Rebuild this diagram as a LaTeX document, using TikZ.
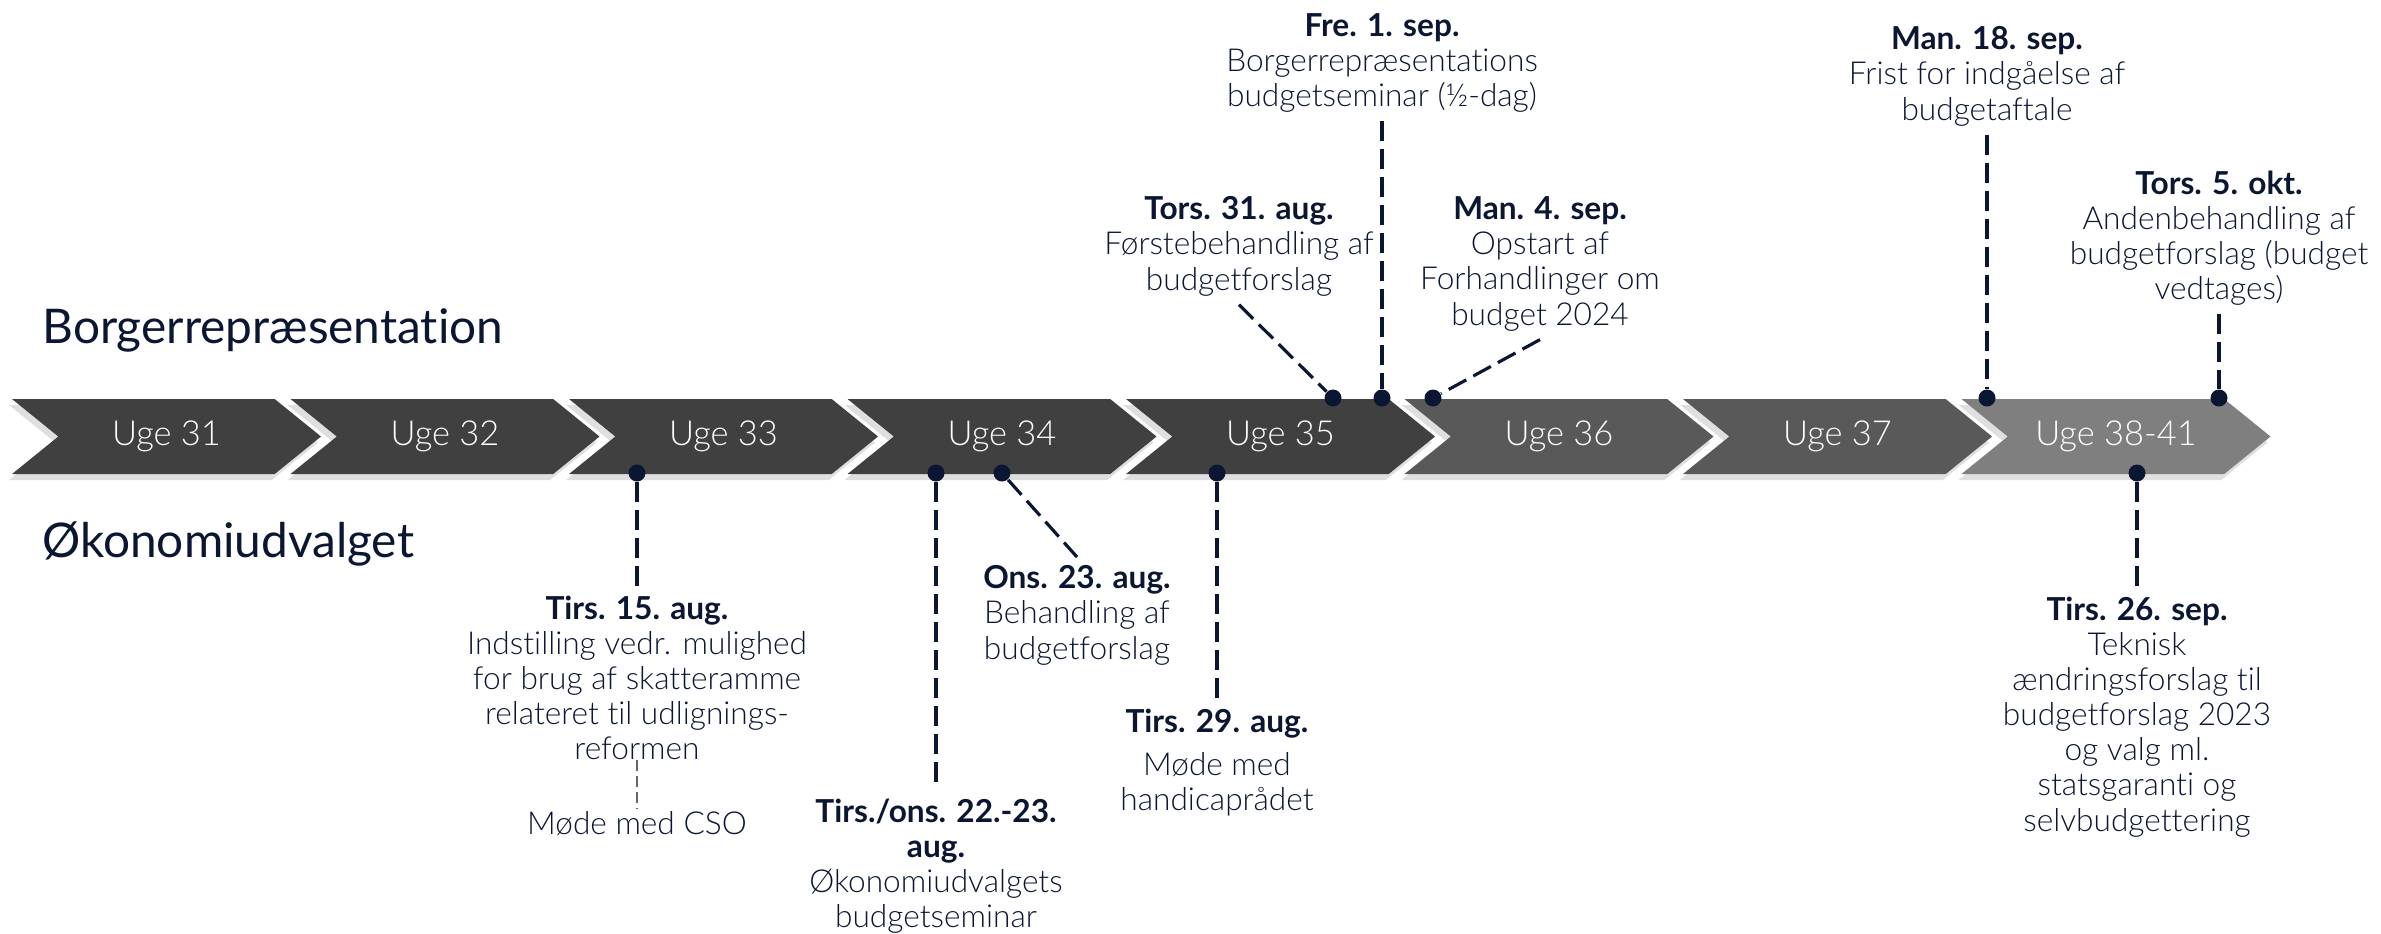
\documentclass[tikz,border=0pt]{standalone}
\usepackage{fontspec}
\setmainfont{Lato}[UprightFont={* Light},BoldFont={* Bold},Ligatures=NoCommon]
\newfontfamily\headfont{Lato}[Ligatures=NoCommon]
\usetikzlibrary{shapes.symbols,shadows}
\definecolor{navy}{HTML}{0A1632}
\definecolor{wkdark}{HTML}{404040}
\definecolor{wkmid}{HTML}{595959}
\definecolor{wklight}{HTML}{7F7F7F}

\begin{document}
\begin{tikzpicture}[x=0.1mm,y=-0.1mm,
  week/.style={signal,signal from=west,signal to=east,signal pointer angle=78,
    minimum width=30.9mm,minimum height=7.5mm,inner sep=0,outer sep=0,text=white,
    fill=wkdark,font=\fontsize{9.8}{11}\selectfont,
    drop shadow={opacity=0.25,shadow xshift=-0.3mm,shadow yshift=-0.6mm}},
  dot/.style={circle,fill=navy,minimum size=1.7mm,inner sep=0},
  event/.style={anchor=north,align=center,text=navy,inner sep=0.8mm,
    font=\fontsize{9}{10}\selectfont},
  lead/.style={navy,line width=0.9pt,dash pattern=on 2mm off 0.8mm},
  thinlead/.style={black!60,line width=0.6pt,dash pattern=on 1.1mm off 0.5mm,
    shorten <=-0.9mm,shorten >=-0.6mm},
  group/.style={anchor=base west,text=navy,font=\headfont\fontsize{13.6}{16}\selectfont}]
  \useasboundingbox (0,0) rectangle (2381,933);

  \node[group] (br) at (30,343) {Borgerrepræsentation};
  \node[group] (oeu) at (30,557) {Økonomiudvalget};

  \node[week] (w31) at (166.5,436.5) {Uge 31};
  \node[week] (w32) at (445,436.5) {Uge 32};
  \node[week] (w33) at (723.5,436.5) {Uge 33};
  \node[week] (w34) at (1002,436.5) {Uge 34};
  \node[week] (w35) at (1280.5,436.5) {Uge 35};
  \node[week,fill=wkmid] (w36) at (1559,436.5) {Uge 36};
  \node[week,fill=wkmid] (w37) at (1837.5,436.5) {Uge 37};
  \node[week,fill=wklight] (w38) at (2116,436.5) {Uge 38-41};

  \node[event] (fre1) at (1382,5) {\textbf{Fre. 1. sep.}\\Borgerrepræsentations\\budgetseminar (½-dag)};
  \node[event] (tor31) at (1239,188) {\textbf{Tors. 31. aug.}\\Førstebehandling af\\budgetforslag};
  \node[event] (man4) at (1540,188) {\textbf{Man. 4. sep.}\\Opstart af\\Forhandlinger om\\budget 2024};
  \node[event] (man18) at (1987,18) {\textbf{Man. 18. sep.}\\Frist for indgåelse af\\budgetaftale};
  \node[event] (tor5) at (2219,162) {\textbf{Tors. 5. okt.}\\Andenbehandling af\\budgetforslag (budget\\vedtages)};

  \node[event] (tir15) at (637,587) {\textbf{Tirs. 15. aug.}\\Indstilling vedr. mulighed\\for brug af skatteramme\\relateret til udlignings-\\reformen};
  \node[event] (cso) at (637,803) {Møde med CSO};
  \node[event] (tir22) at (936,790) {\textbf{Tirs./ons. 22.-23.}\\\textbf{aug.}\\Økonomiudvalgets\\budgetseminar};
  \node[event] (ons23) at (1077,557) {\textbf{Ons. 23. aug.}\\Behandling af\\budgetforslag};
  \node[event] (tir29) at (1217,700) {\textbf{Tirs. 29. aug.}\\[2.3pt]Møde med\\handicaprådet};
  \node[event] (tir26) at (2137,588) {\textbf{Tirs. 26. sep.}\\Teknisk\\ændringsforslag til\\budgetforslag 2023\\og valg ml.\\statsgaranti og\\selvbudgettering};

  \node[dot] (d31a) at (1333,398) {};
  \node[dot] (d1s) at (1382,398) {};
  \node[dot] (d4s) at (1433,398) {};
  \node[dot] (d18s) at (1987,398) {};
  \node[dot] (d5o) at (2219,398) {};
  \node[dot] (d15a) at (637,473) {};
  \node[dot] (d22a) at (936,473) {};
  \node[dot] (d23a) at (1002,473) {};
  \node[dot] (d29a) at (1217,473) {};
  \node[dot] (d26s) at (2137,473) {};

  \draw[lead] (tor31.south) -- (d31a);
  \draw[lead] (fre1.south) -- (d1s);
  \draw[lead] (man4.south) -- (d4s);
  \draw[lead] (man18.south) -- (d18s);
  \draw[lead] (tor5.south) -- (d5o);
  \draw[lead] (d15a) -- (tir15.north);
  \draw[thinlead] (tir15.south) -- (cso.north);
  \draw[lead] (d22a) -- (tir22.north);
  \draw[lead] (d23a) -- (ons23.north);
  \draw[lead] (d29a) -- (tir29.north);
  \draw[lead] (d26s) -- (tir26.north);
\end{tikzpicture}
\end{document}
